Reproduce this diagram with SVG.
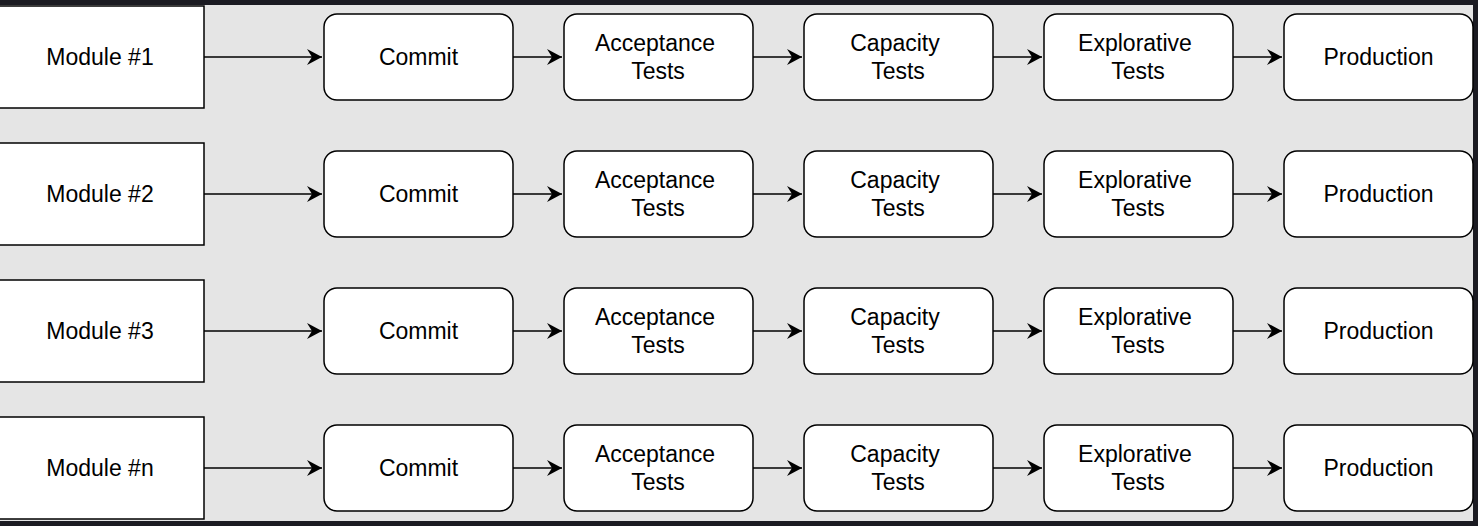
<svg xmlns="http://www.w3.org/2000/svg" width="1478" height="526" viewBox="0 0 1478 526">
<style>
.mod{fill:#ffffff;stroke:#000000;stroke-width:1.5}
.stg{fill:#ffffff;stroke:#000000;stroke-width:1.5}
.t{font-family:"Liberation Sans",Arial,sans-serif;font-size:23px;fill:#000000;text-anchor:middle}
.c{fill:none;stroke:#000000;stroke-width:1.5}
</style>
<defs>
<marker id="ah" markerUnits="userSpaceOnUse" markerWidth="18" markerHeight="18" viewBox="-16 -9 18 18" refX="0" refY="0" orient="auto">
<path d="M0,0 L-15,-8 L-10,0 L-15,8 Z" fill="#000000"/>
</marker>
</defs>
<rect x="0" y="0" width="1478" height="526" fill="#1b1b22"/>
<rect x="0" y="5" width="1473" height="516" fill="#e5e5e5"/>
<g id="connectors">
<path class="c" d="M204,57 H322" marker-end="url(#ah)"/>
<path class="c" d="M513,57 H562" marker-end="url(#ah)"/>
<path class="c" d="M753,57 H802" marker-end="url(#ah)"/>
<path class="c" d="M993,57 H1042" marker-end="url(#ah)"/>
<path class="c" d="M1233,57 H1282" marker-end="url(#ah)"/>
<path class="c" d="M204,194 H322" marker-end="url(#ah)"/>
<path class="c" d="M513,194 H562" marker-end="url(#ah)"/>
<path class="c" d="M753,194 H802" marker-end="url(#ah)"/>
<path class="c" d="M993,194 H1042" marker-end="url(#ah)"/>
<path class="c" d="M1233,194 H1282" marker-end="url(#ah)"/>
<path class="c" d="M204,331 H322" marker-end="url(#ah)"/>
<path class="c" d="M513,331 H562" marker-end="url(#ah)"/>
<path class="c" d="M753,331 H802" marker-end="url(#ah)"/>
<path class="c" d="M993,331 H1042" marker-end="url(#ah)"/>
<path class="c" d="M1233,331 H1282" marker-end="url(#ah)"/>
<path class="c" d="M204,468 H322" marker-end="url(#ah)"/>
<path class="c" d="M513,468 H562" marker-end="url(#ah)"/>
<path class="c" d="M753,468 H802" marker-end="url(#ah)"/>
<path class="c" d="M993,468 H1042" marker-end="url(#ah)"/>
<path class="c" d="M1233,468 H1282" marker-end="url(#ah)"/>
</g>
<!-- Row 1 -->
<g id="module1"><rect class="mod" x="-2" y="6" width="206" height="102"/><text class="t" x="100" y="65">Module #1</text></g>
<g id="commit1"><rect class="stg" x="324" y="14" width="189" height="86" rx="13"/><text class="t" x="418.5" y="65">Commit</text></g>
<g id="acceptance1"><rect class="stg" x="564" y="14" width="189" height="86" rx="13"/><text class="t" x="655" y="50.5">Acceptance</text><text class="t" x="658" y="78.5">Tests</text></g>
<g id="capacity1"><rect class="stg" x="804" y="14" width="189" height="86" rx="13"/><text class="t" x="895" y="50.5">Capacity</text><text class="t" x="898" y="78.5">Tests</text></g>
<g id="explorative1"><rect class="stg" x="1044" y="14" width="189" height="86" rx="13"/><text class="t" x="1135" y="50.5">Explorative</text><text class="t" x="1138" y="78.5">Tests</text></g>
<g id="production1"><rect class="stg" x="1284" y="14" width="189" height="86" rx="13"/><text class="t" x="1378.5" y="65">Production</text></g>
<!-- Row 2 -->
<g id="module2"><rect class="mod" x="-2" y="143" width="206" height="102"/><text class="t" x="100" y="202">Module #2</text></g>
<g id="commit2"><rect class="stg" x="324" y="151" width="189" height="86" rx="13"/><text class="t" x="418.5" y="202">Commit</text></g>
<g id="acceptance2"><rect class="stg" x="564" y="151" width="189" height="86" rx="13"/><text class="t" x="655" y="187.5">Acceptance</text><text class="t" x="658" y="215.5">Tests</text></g>
<g id="capacity2"><rect class="stg" x="804" y="151" width="189" height="86" rx="13"/><text class="t" x="895" y="187.5">Capacity</text><text class="t" x="898" y="215.5">Tests</text></g>
<g id="explorative2"><rect class="stg" x="1044" y="151" width="189" height="86" rx="13"/><text class="t" x="1135" y="187.5">Explorative</text><text class="t" x="1138" y="215.5">Tests</text></g>
<g id="production2"><rect class="stg" x="1284" y="151" width="189" height="86" rx="13"/><text class="t" x="1378.5" y="202">Production</text></g>
<!-- Row 3 -->
<g id="module3"><rect class="mod" x="-2" y="280" width="206" height="102"/><text class="t" x="100" y="339">Module #3</text></g>
<g id="commit3"><rect class="stg" x="324" y="288" width="189" height="86" rx="13"/><text class="t" x="418.5" y="339">Commit</text></g>
<g id="acceptance3"><rect class="stg" x="564" y="288" width="189" height="86" rx="13"/><text class="t" x="655" y="324.5">Acceptance</text><text class="t" x="658" y="352.5">Tests</text></g>
<g id="capacity3"><rect class="stg" x="804" y="288" width="189" height="86" rx="13"/><text class="t" x="895" y="324.5">Capacity</text><text class="t" x="898" y="352.5">Tests</text></g>
<g id="explorative3"><rect class="stg" x="1044" y="288" width="189" height="86" rx="13"/><text class="t" x="1135" y="324.5">Explorative</text><text class="t" x="1138" y="352.5">Tests</text></g>
<g id="production3"><rect class="stg" x="1284" y="288" width="189" height="86" rx="13"/><text class="t" x="1378.5" y="339">Production</text></g>
<!-- Row n -->
<g id="modulen"><rect class="mod" x="-2" y="417" width="206" height="102"/><text class="t" x="100" y="476">Module #n</text></g>
<g id="commitn"><rect class="stg" x="324" y="425" width="189" height="86" rx="13"/><text class="t" x="418.5" y="476">Commit</text></g>
<g id="acceptancen"><rect class="stg" x="564" y="425" width="189" height="86" rx="13"/><text class="t" x="655" y="461.5">Acceptance</text><text class="t" x="658" y="489.5">Tests</text></g>
<g id="capacityn"><rect class="stg" x="804" y="425" width="189" height="86" rx="13"/><text class="t" x="895" y="461.5">Capacity</text><text class="t" x="898" y="489.5">Tests</text></g>
<g id="explorativen"><rect class="stg" x="1044" y="425" width="189" height="86" rx="13"/><text class="t" x="1135" y="461.5">Explorative</text><text class="t" x="1138" y="489.5">Tests</text></g>
<g id="productionn"><rect class="stg" x="1284" y="425" width="189" height="86" rx="13"/><text class="t" x="1378.5" y="476">Production</text></g>
</svg>
